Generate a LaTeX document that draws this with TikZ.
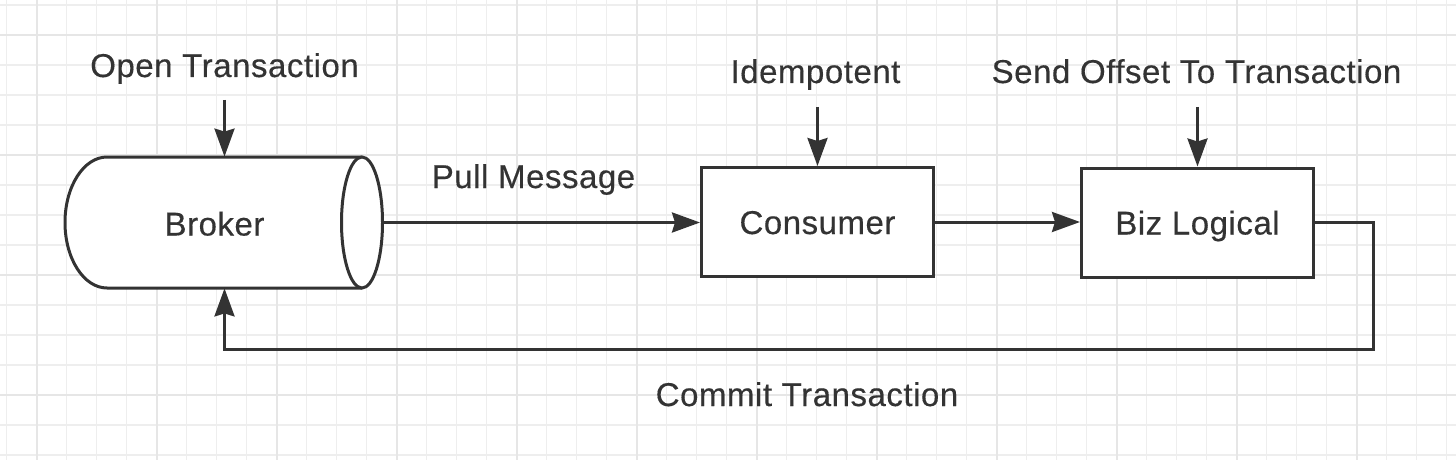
\documentclass[tikz,border=0pt]{standalone}
\usepackage{fontspec}
\setmainfont{Liberation Sans}[LetterSpace=1.6, FakeBold=0.35]
\usetikzlibrary{arrows.meta}
\definecolor{ink}{HTML}{333333}
\definecolor{gridminor}{RGB}{238,238,238}
\definecolor{gridmajor}{RGB}{230,230,230}
\tikzset{
  lbl/.style={anchor=base, text=ink, font=\fontsize{16.5pt}{19pt}\selectfont, inner sep=0pt},
  boxnode/.style={draw=ink, line width=1.5pt, fill=white, text=ink,
    font=\fontsize{16.5pt}{19pt}\selectfont, text height=12pt, text depth=0pt,
    minimum width=116pt, minimum height=54.5pt, inner sep=0pt},
  arr/.style={draw=ink, line width=1.5pt, -{Stealth[length=14pt,width=10pt,inset=1.5pt]}},
  wire/.style={draw=ink, line width=1.5pt}
}
\begin{document}
\begin{tikzpicture}[x=0.5pt,y=-0.5pt]
\useasboundingbox (0,0) rectangle (1456,460);
\fill[white] (0,0) rectangle (1456,460);
% grid
\foreach \i in {0,...,48} \draw[gridminor, line width=0.75pt] (6.7+30*\i,0) -- (6.7+30*\i,460);
\foreach \i in {0,...,15} \draw[gridminor, line width=0.75pt] (0,5+30*\i) -- (1456,5+30*\i);
\foreach \i in {0,...,11} \draw[gridmajor, line width=1pt] (36.7+120*\i,0) -- (36.7+120*\i,460);
\foreach \i in {0,...,3} \draw[gridmajor, line width=1pt] (0,35+120*\i) -- (1456,35+120*\i);

% broker cylinder
\node[minimum width=168.5pt, minimum height=65.5pt, inner sep=0pt] (broker) at (214.5,222.5) {};
\filldraw[ink, fill=white, line width=1.5pt, line join=round]
  (362,157) -- (107,157) arc[start angle=90, end angle=270, x radius=21pt, y radius=32.75pt]
  -- (362,288);
\filldraw[ink, fill=white, line width=1.5pt] (362,222.5) ellipse [x radius=10.25pt, y radius=32.75pt];
\node[text=ink, font=\fontsize{16.5pt}{19pt}\selectfont, text height=12pt, text depth=0pt, inner sep=0pt] (brokertext) at (214.5,223.5) {Broker};

% boxes
\node[boxnode] (consumer) at (817.5,222) {Consumer};
\node[boxnode] (biz) at (1197.5,222.5) {Biz Logical};

% labels
\node[lbl] (opentx) at (224.5,77) {Open Transaction};
\node[lbl] (idem) at (815.5,83) {Idempotent};
\node[lbl] (sendoff) at (1196.5,83) {Send Offset To Transaction};
\node[lbl] (pull) at (533.5,188) {Pull Message};
\node[lbl] (commit) at (807,406) {Commit Transaction};

% connector tails
\coordinate (opentail) at (224.5,100);
\coordinate (idemtail) at (817.5,107);
\coordinate (sendtail) at (1197.5,107);
\coordinate (ret) at (1373,349);

\draw[arr] (opentail) -- (opentail |- broker.north);
\draw[arr] (idemtail) -- (consumer.north);
\draw[arr] (sendtail) -- (biz.north);
\draw[arr] (broker.east) -- (broker.east -| consumer.west);
\draw[arr] (consumer.east) -- (consumer.east -| biz.west);
\draw[arr, line join=miter] (biz.east) -| (ret) -| (opentail |- broker.south);
\end{tikzpicture}
\end{document}
